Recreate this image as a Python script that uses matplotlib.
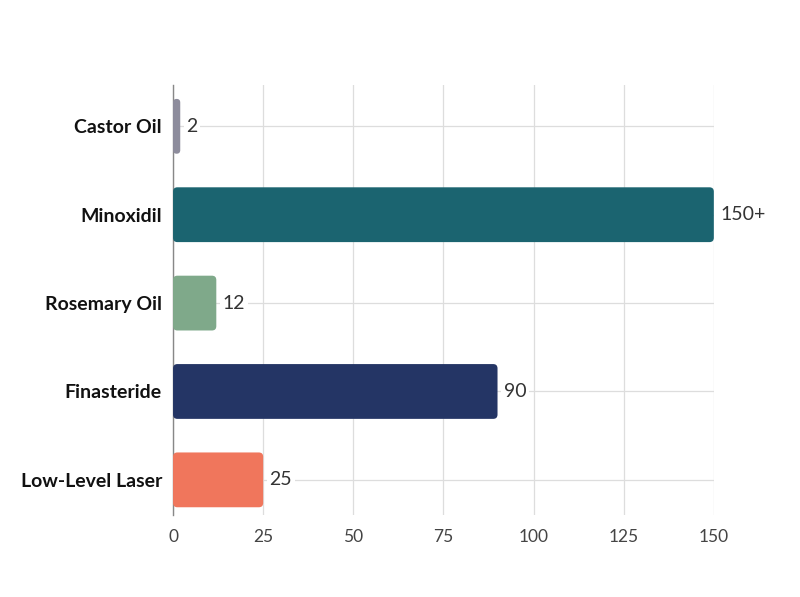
import matplotlib
matplotlib.use("Agg")
import matplotlib.pyplot as plt
from matplotlib.patches import FancyBboxPatch

plt.rcParams['font.family'] = ['Lato', 'DejaVu Sans']

categories = ["Castor Oil", "Minoxidil", "Rosemary Oil", "Finasteride", "Low-Level Laser"]
values = [2, 150, 12, 90, 25]
value_labels = ["2", "150+", "12", "90", "25"]
colors = ["#8d8c9c", "#1b6470", "#7fa98a", "#243565", "#f0765c"]
xticks = [0, 25, 50, 75, 100, 125, 150]

fig = plt.figure(figsize=(8, 5.97), dpi=100)
ax = fig.add_axes([0.2163, 0.137, 0.676, 0.721])

ypos = list(range(len(categories)))
bars = ax.barh(ypos, values, height=0.62, color=colors)

# swap plain bars for rounded ones
x_per_px = 150 / 541
y_per_px = 4.87 / 430
aspect = y_per_px / x_per_px
for b in bars:
    x0, y0 = b.get_x(), b.get_y()
    w, h = b.get_width(), b.get_height()
    r = min(1.2, w / 2)
    p = FancyBboxPatch((x0, y0), w, h,
                       boxstyle=f"round,pad=0,rounding_size={r}",
                       mutation_aspect=aspect,
                       facecolor=b.get_facecolor(), edgecolor="none", zorder=3)
    b.set_visible(False)
    ax.add_patch(p)

for y, v, lab in zip(ypos, values, value_labels):
    ax.text(v + 1.7, y, lab, va="center", ha="left", fontsize=14, color="#333333",
            zorder=4, bbox=dict(facecolor="white", edgecolor="none", pad=2))

ax.set_xlim(0, 150)
ax.set_ylim(4.4, -0.47)
ax.set_xticks(xticks)
ax.set_yticks(ypos)
ax.set_yticklabels(categories, fontsize=14, fontweight="bold", color="#111111")
ax.tick_params(axis="x", labelsize=12.5, labelcolor="#444444", length=0, pad=10)
ax.tick_params(axis="y", length=0, pad=8)
ax.grid(True, color="#dddddd", linewidth=0.9, zorder=0)
ax.set_axisbelow(True)
for s in ["top", "right", "bottom"]:
    ax.spines[s].set_visible(False)
ax.spines["left"].set_color("#888888")
ax.spines["left"].set_linewidth(1)

fig.savefig("out.png", dpi=100)
